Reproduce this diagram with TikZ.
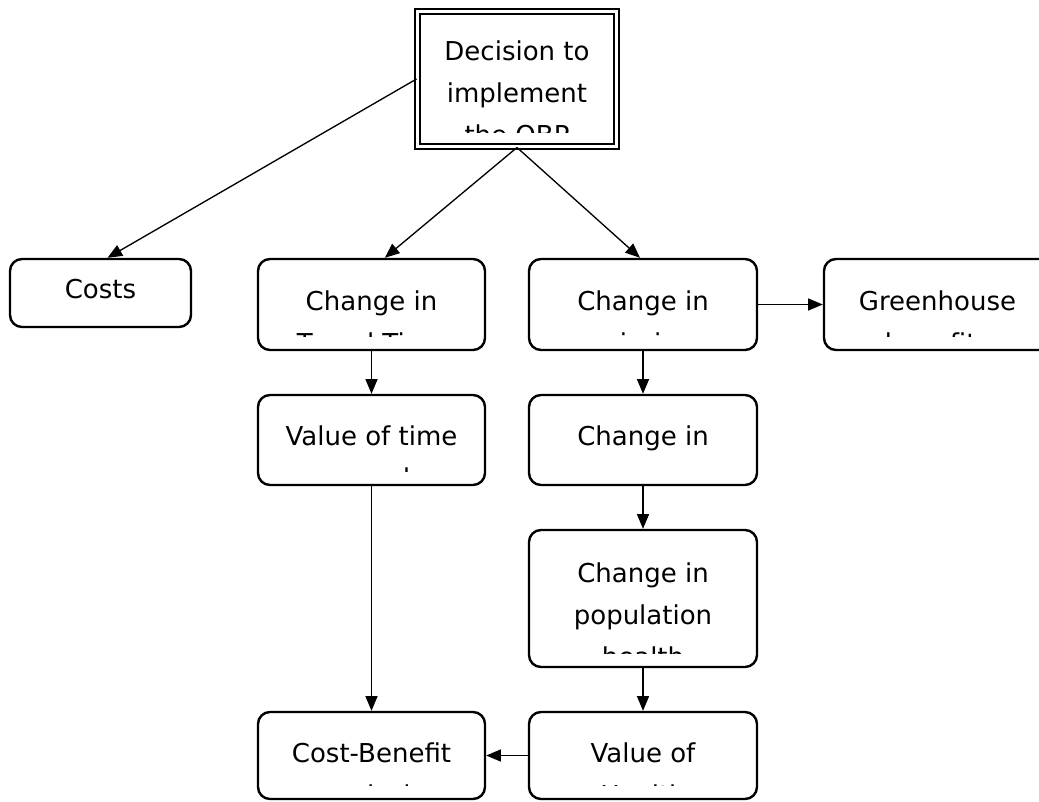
\documentclass[tikz,border=0pt]{standalone}
\usepackage{fontspec}
\setmainfont{DejaVu Sans}
\usetikzlibrary{arrows.meta}
\newcommand\boxfont{\fontsize{19.5}{31.5}\selectfont}
\begin{document}
\begin{tikzpicture}[x=0.75pt,y=-0.75pt,
  box/.style={draw, line width=1.8pt, rounded corners=9pt, inner sep=0pt},
  sz/.style 2 args={minimum width=#1*0.75pt, minimum height=#2*0.75pt},
  % text lines hang from the top of the box, one every 31.5pt, and are cut off near its bottom
  lines/.style 2 args={path picture={
     \clip (path picture bounding box.north west) rectangle ([yshift=10.5pt]path picture bounding box.south east);
     \foreach \t [count=\i] in {#2}
        \node[anchor=base, inner sep=0pt, font=\boxfont]
          at ([yshift=-#1*0.75pt-(\i-1)*31.5pt]path picture bounding box.north) {\t};
  }},
  link/.style={-{Triangle[length=11pt,width=9pt]}, line width=1pt}
]
\clip (0,0) rectangle (1039,801);

\node[draw, double, line width=1.5pt, double distance=2.25pt, inner sep=0pt, sz={199}{135},
      lines={48.5}{Decision to,implement,the OBP}] (dec) at (517,79) {};

\node[box, sz={181}{68}, lines={39}{Costs}] (costs) at (100.5,293) {};
\node[box, sz={227}{91}, lines={51}{Change in,Travel Time}] (travel) at (371.5,304.5) {};
\node[box, sz={228}{91}, lines={51}{Change in,emissions}] (emis) at (643,304.5) {};
\node[box, sz={227}{91}, lines={51}{Greenhouse,benefits}] (green) at (937.5,304.5) {};
\node[box, sz={227}{90}, lines={50}{Value of time,saved}] (vot) at (371.5,440) {};
\node[box, sz={228}{90}, lines={50}{Change in}] (expo) at (643,440) {};
\node[box, sz={228}{137}, lines={52}{Change in,population,health}] (pop) at (643,598.5) {};
\node[box, sz={227}{87}, lines={50}{Cost-Benefit,analysis}] (cba) at (371.5,755.5) {};
\node[box, sz={228}{87}, lines={50}{Value of,Health}] (voh) at (643,755.5) {};

\draw[link] (dec.west) -- ([xshift=5.25pt]costs.north);
\draw[link] (dec.south) -- ([xshift=10pt]travel.north);
\draw[link] (dec.south) -- ([xshift=-2.25pt]emis.north);
\draw[link] (travel) -- (vot);
\draw[link] (emis) -- (expo);
\draw[link] (emis) -- (green);
\draw[link] (expo) -- (pop);
\draw[link] (pop) -- (voh);
\draw[link] (vot) -- (cba);
\draw[link] (voh) -- (cba);
\end{tikzpicture}
\end{document}
